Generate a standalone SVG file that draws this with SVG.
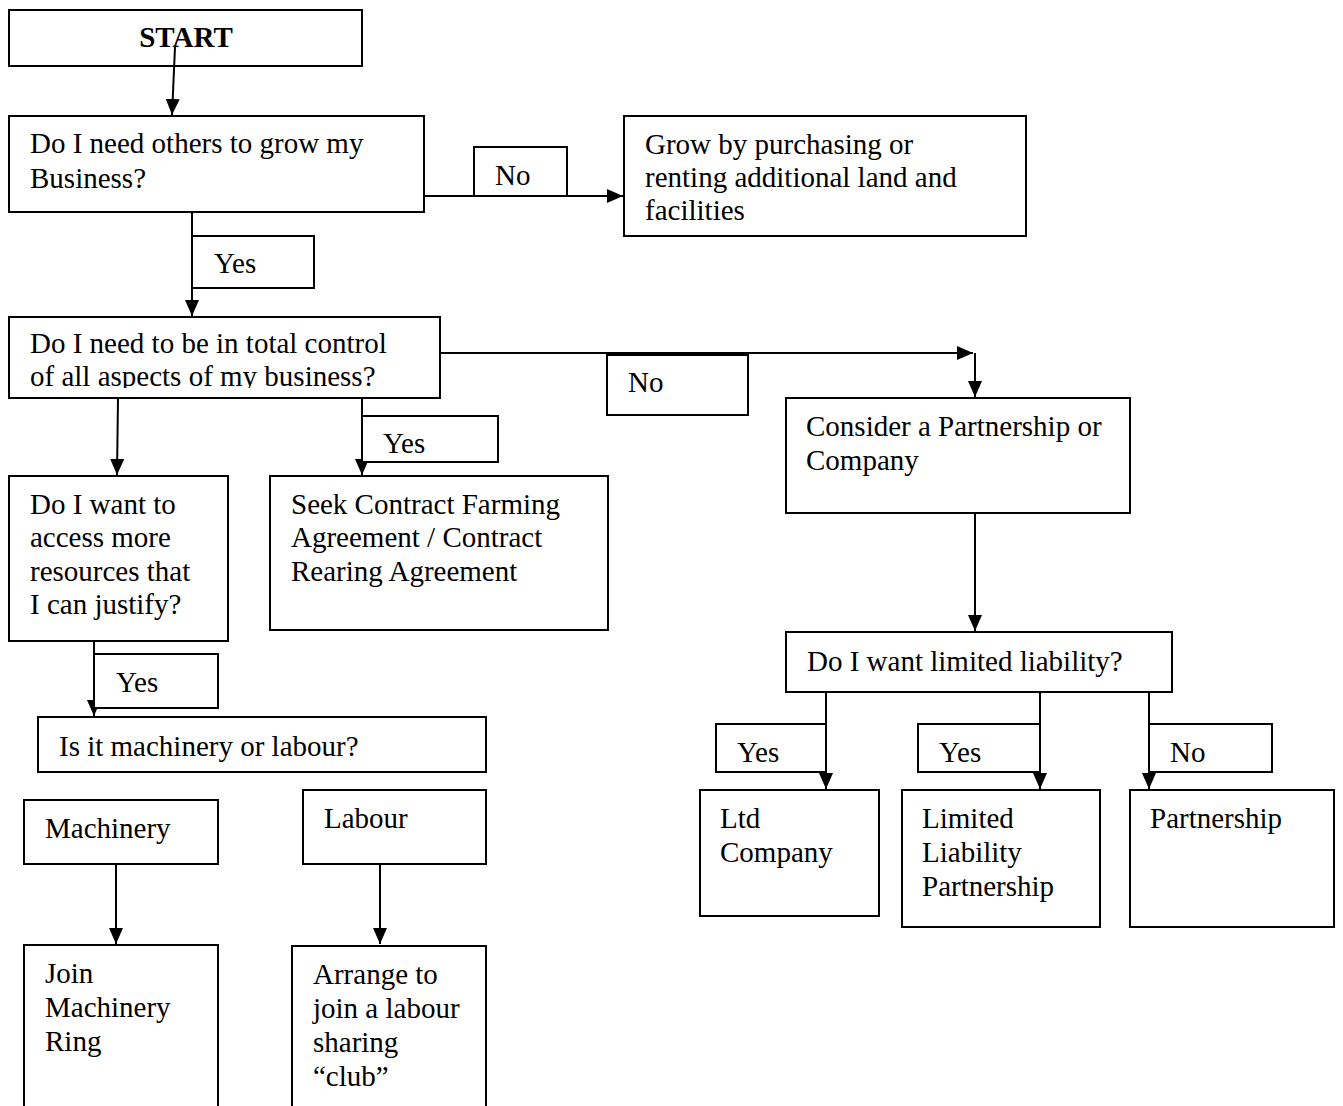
<svg xmlns="http://www.w3.org/2000/svg" width="1343" height="1106" viewBox="0 0 1343 1106">
<style>
.box{fill:#fff;stroke:#000;stroke-width:2}
.lbl{fill:#fff;stroke:#000;stroke-width:2}
.t{font-family:"Liberation Serif","Times New Roman",serif;font-size:29px;fill:#000}
.b{font-weight:bold;font-size:29px}
.c{fill:none;stroke:#000;stroke-width:2}
</style>
<defs>
<marker id="ah" markerUnits="userSpaceOnUse" markerWidth="18" markerHeight="14" refX="16" refY="7" orient="auto">
<path d="M0,0 L16,7 L0,14 Z" fill="#000"/>
</marker>
<clipPath id="clipCtrl"><rect x="9" y="317" width="432" height="71"/></clipPath>
</defs>

<g id="connectors">
<path class="c" d="M175,47 L172,115" marker-end="url(#ah)"/>
<path class="c" d="M424,196 L623,196" marker-end="url(#ah)"/>
<path class="c" d="M192,212 L192,316" marker-end="url(#ah)"/>
<path class="c" d="M440,353 L973,353" marker-end="url(#ah)"/>
<path class="c" d="M975,353 L975,397" marker-end="url(#ah)"/>
<path class="c" d="M118,398 L117,475" marker-end="url(#ah)"/>
<path class="c" d="M362,398 L362,475" marker-end="url(#ah)"/>
<path class="c" d="M94,641 L94,716" marker-end="url(#ah)"/>
<path class="c" d="M116,864 L116,944" marker-end="url(#ah)"/>
<path class="c" d="M380,864 L380,944" marker-end="url(#ah)"/>
<path class="c" d="M975,513 L975,631" marker-end="url(#ah)"/>
<path class="c" d="M826,692 L826,789" marker-end="url(#ah)"/>
<path class="c" d="M1040,692 L1040,789" marker-end="url(#ah)"/>
<path class="c" d="M1149,692 L1149,789" marker-end="url(#ah)"/>
</g>

<g id="start">
<rect class="box" x="9" y="10" width="353" height="56" style="fill:none"/>
<text class="t b" x="186" y="47" text-anchor="middle">START</text>
</g>

<g id="q-others">
<rect class="box" x="9" y="116" width="415" height="96"/>
<text class="t" x="30" y="153">Do I need others to grow my</text>
<text class="t" x="30" y="188">Business?</text>
</g>

<g id="lbl-no-1">
<rect class="lbl" x="474" y="147" width="93" height="49"/>
<text class="t" x="495" y="185">No</text>
</g>

<g id="grow">
<rect class="box" x="624" y="116" width="402" height="120"/>
<text class="t" x="645" y="154">Grow by purchasing or</text>
<text class="t" x="645" y="187">renting additional land and</text>
<text class="t" x="645" y="220">facilities</text>
</g>

<g id="lbl-yes-1">
<rect class="lbl" x="192" y="236" width="122" height="52"/>
<text class="t" x="214" y="273">Yes</text>
</g>

<g id="q-control">
<rect class="box" x="9" y="317" width="431" height="81"/>
<g clip-path="url(#clipCtrl)">
<text class="t" x="30" y="353">Do I need to be in total control</text>
<text class="t" x="30" y="386">of all aspects of my business?</text>
</g>
</g>

<g id="lbl-no-2">
<rect class="lbl" x="607" y="355" width="141" height="60"/>
<text class="t" x="628" y="392">No</text>
</g>

<g id="lbl-yes-2">
<rect class="lbl" x="362" y="416" width="136" height="46"/>
<text class="t" x="383" y="453">Yes</text>
</g>

<g id="consider">
<rect class="box" x="786" y="398" width="344" height="115"/>
<text class="t" x="806" y="436">Consider a Partnership or</text>
<text class="t" x="806" y="470">Company</text>
</g>

<g id="q-resources">
<rect class="box" x="9" y="476" width="219" height="165"/>
<text class="t" x="30" y="514">Do I want to</text>
<text class="t" x="30" y="547">access more</text>
<text class="t" x="30" y="581">resources that</text>
<text class="t" x="30" y="614">I can justify?</text>
</g>

<g id="contract">
<rect class="box" x="270" y="476" width="338" height="154"/>
<text class="t" x="291" y="514">Seek Contract Farming</text>
<text class="t" x="291" y="547">Agreement / Contract</text>
<text class="t" x="291" y="581">Rearing Agreement</text>
</g>

<g id="lbl-yes-3">
<rect class="lbl" x="94" y="654" width="124" height="54"/>
<text class="t" x="116" y="692">Yes</text>
</g>

<g id="q-liability">
<rect class="box" x="786" y="632" width="386" height="60"/>
<text class="t" x="807" y="671">Do I want limited liability?</text>
</g>

<g id="q-machinery">
<rect class="box" x="38" y="717" width="448" height="55"/>
<text class="t" x="59" y="756">Is it machinery or labour?</text>
</g>

<g id="lbl-yes-4">
<rect class="lbl" x="716" y="724" width="110" height="48"/>
<text class="t" x="737" y="762">Yes</text>
</g>
<g id="lbl-yes-5">
<rect class="lbl" x="918" y="724" width="122" height="48"/>
<text class="t" x="939" y="762">Yes</text>
</g>
<g id="lbl-no-3">
<rect class="lbl" x="1149" y="724" width="123" height="48"/>
<text class="t" x="1170" y="762">No</text>
</g>

<g id="ltd">
<rect class="box" x="700" y="790" width="179" height="126"/>
<text class="t" x="720" y="828">Ltd</text>
<text class="t" x="720" y="862">Company</text>
</g>
<g id="llp">
<rect class="box" x="902" y="790" width="198" height="137"/>
<text class="t" x="922" y="828">Limited</text>
<text class="t" x="922" y="862">Liability</text>
<text class="t" x="922" y="896">Partnership</text>
</g>
<g id="partnership">
<rect class="box" x="1130" y="790" width="204" height="137"/>
<text class="t" x="1150" y="828">Partnership</text>
</g>

<g id="machinery">
<rect class="box" x="24" y="800" width="194" height="64"/>
<text class="t" x="45" y="838">Machinery</text>
</g>
<g id="labour">
<rect class="box" x="303" y="790" width="183" height="74"/>
<text class="t" x="324" y="828">Labour</text>
</g>

<g id="ring">
<rect class="box" x="24" y="945" width="194" height="170"/>
<text class="t" x="45" y="983">Join</text>
<text class="t" x="45" y="1017">Machinery</text>
<text class="t" x="45" y="1051">Ring</text>
</g>
<g id="club">
<rect class="box" x="292" y="946" width="194" height="170"/>
<text class="t" x="313" y="984">Arrange to</text>
<text class="t" x="313" y="1018">join a labour</text>
<text class="t" x="313" y="1052">sharing</text>
<text class="t" x="313" y="1086">“club”</text>
</g>
</svg>
